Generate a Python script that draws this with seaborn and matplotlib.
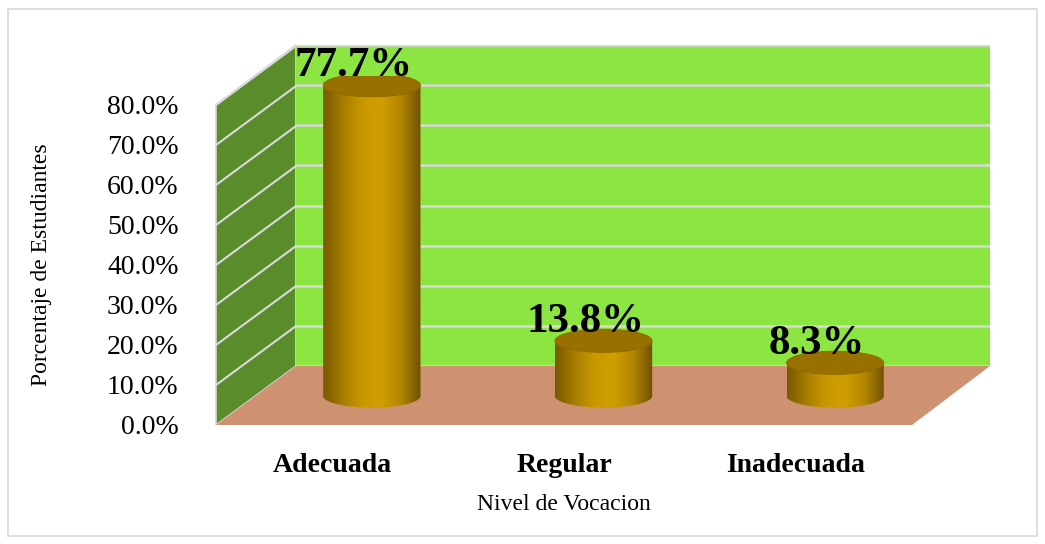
import numpy as np
import pandas as pd
import seaborn as sns
import matplotlib.pyplot as plt
from matplotlib.patches import Polygon, Ellipse, Rectangle
from matplotlib.colors import LinearSegmentedColormap

# data
categories = ["Adecuada", "Regular", "Inadecuada"]
values = [0.777, 0.138, 0.083]
labels = ["77.7%", "13.8%", "8.3%"]
y_ticks = [0.0, 0.1, 0.2, 0.3, 0.4, 0.5, 0.6, 0.7, 0.8]

sns.set_style("white")
plt.rcParams['font.family'] = ['Liberation Serif', 'DejaVu Serif']
plt.rcParams['text.color'] = 'black'
plt.rcParams['axes.labelcolor'] = 'black'
plt.rcParams['xtick.color'] = 'black'
plt.rcParams['ytick.color'] = 'black'

W, H = 1045, 544
fig = plt.figure(figsize=(W / 100, H / 100), dpi=100)


def fig_rect(x0, y_top, x1, y_bot):
    # pixel box (from top-left) -> figure fraction
    return [x0 / W, 1 - y_bot / H, (x1 - x0) / W, (y_bot - y_top) / H]


# -----------------------------
# Decoration: border, side wall, floor
# -----------------------------
ax_deco = fig.add_axes([0, 0, 1, 1])
ax_deco.set_xlim(0, W)
ax_deco.set_ylim(H, 0)
ax_deco.axis("off")

ax_deco.add_patch(Rectangle((8, 9), 1029, 527, fill=False, edgecolor="#D9D9D9", lw=1.2))
ax_deco.add_patch(Polygon([(216, 425), (216, 105), (296, 45), (296, 366)],
                          closed=True, facecolor="#5B8C2C", edgecolor="#D9D9D9", lw=1.2))
ax_deco.add_patch(Polygon([(216, 425), (912, 425), (990, 366), (296, 366)],
                          closed=True, facecolor="#CE9172", edgecolor="none"))
for k in range(1, 9):
    ax_deco.plot([216, 296], [425 - 40 * k, 366 - 40 * k], color="#D9D9D9", lw=1.5)

# -----------------------------
# Back wall
# -----------------------------
ax_back = fig.add_axes(fig_rect(296, 45, 990, 366))
ax_back.set_facecolor("#8DE542")
ax_back.set_ylim(0, 0.8)
ax_back.set_xlim(0, 1)
ax_back.set_yticks(y_ticks)
ax_back.yaxis.grid(True, color="#D9D9D9", lw=1.8)
ax_back.tick_params(left=False, bottom=False, labelleft=False, labelbottom=False)
for s in ax_back.spines.values():
    s.set_visible(False)

# -----------------------------
# Cylinders (middle depth plane), y from -0.1 so the bottom caps show
# -----------------------------
ax_bars = fig.add_axes(fig_rect(256, 76, 951, 436))
ax_bars.patch.set_alpha(0)
df = pd.DataFrame({"Nivel": categories, "Valor": values})
sns.barplot(data=df, x="Nivel", y="Valor", width=0.42, color="#C99700", ax=ax_bars)

cmap = LinearSegmentedColormap.from_list(
    "gold", ["#7A5A00", "#A67C00", "#C99800", "#CF9E00", "#B38600", "#6E5100"])
grad = np.linspace(0, 1, 256).reshape(1, -1)
eh = 0.058

for bar in ax_bars.patches:
    x0 = bar.get_x()
    w = bar.get_width()
    h = bar.get_height()
    xc = x0 + w / 2
    th = np.linspace(np.pi, 2 * np.pi, 60)
    arc = np.column_stack([xc + w / 2 * np.cos(th), eh / 2 * np.sin(th)])
    pts = np.vstack([[x0, h], arc, [x0 + w, h]])
    body = Polygon(pts, closed=True, facecolor="none", edgecolor="none")
    ax_bars.add_patch(body)
    bar.set_visible(False)
    im = ax_bars.imshow(grad, extent=[x0, x0 + w, -eh / 2, h], aspect="auto",
                        cmap=cmap, zorder=2)
    im.set_clip_path(body)
    ax_bars.add_patch(Ellipse((xc, h), w, eh, facecolor="#977000",
                              edgecolor="#8E6A00", lw=0.6, zorder=3))

for i, (v, lab) in enumerate(zip(values, labels)):
    ax_bars.annotate(lab, xy=(i, v), xytext=(-18, 19), textcoords="offset pixels",
                     ha="center", va="center", fontsize=31, fontweight="bold",
                     color="black", zorder=5, annotation_clip=False)

ax_bars.set_xlim(-0.5, 2.5)
ax_bars.set_ylim(-0.1, 0.8)
ax_bars.axis("off")

# -----------------------------
# Front plane: tick labels and axis titles
# -----------------------------
ax_front = fig.add_axes(fig_rect(216, 105, 912, 425))
ax_front.patch.set_alpha(0)
ax_front.set_xlim(-0.5, 2.5)
ax_front.set_ylim(0, 0.8)
ax_front.set_yticks(y_ticks, [f"{t * 100:.1f}%" for t in y_ticks])
ax_front.set_xticks(range(len(categories)), categories)
ax_front.tick_params(axis="y", length=0, pad=27, labelsize=20)
ax_front.tick_params(axis="x", length=0, pad=20, labelsize=20)
for t in ax_front.get_xticklabels():
    t.set_fontweight("bold")
for s in ax_front.spines.values():
    s.set_visible(False)
ax_front.set_xlabel("Nivel de Vocacion", fontsize=17, labelpad=12)
ax_front.set_ylabel("Porcentaje de Estudiantes", fontsize=17, labelpad=14)
ax_front.yaxis.set_label_coords(-0.235, 0.5)

fig.savefig("out.png", dpi=100)
